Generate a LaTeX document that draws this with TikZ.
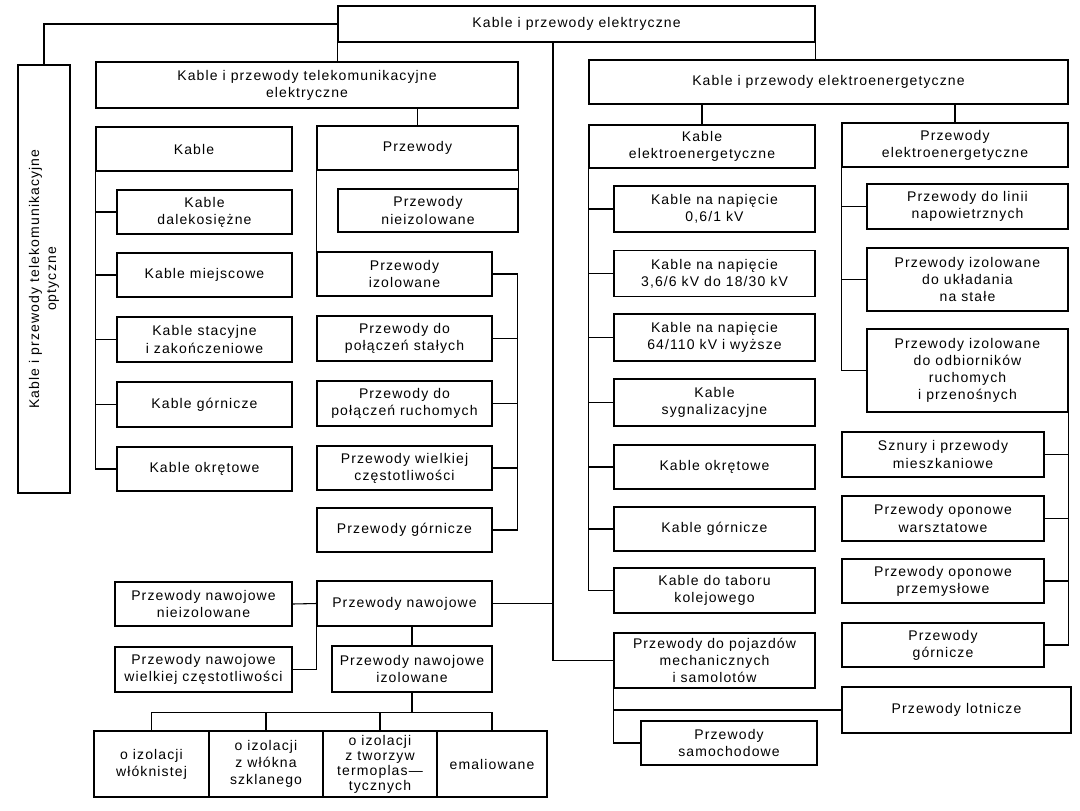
\documentclass[tikz,border=0pt]{standalone}
\usepackage{fontspec}
\setmainfont{Liberation Sans}[LetterSpace=8]
\usetikzlibrary{calc}
\begin{document}
\begin{tikzpicture}[x=0.75pt, y=-0.75pt,
  box/.style={draw, line width=1.2pt, inner sep=0pt, align=center, font=\fontsize{10.5}{12.8}\selectfont},
  sz/.style 2 args={minimum width=#1*0.75pt, minimum height=#2*0.75pt},
  link/.style={line width=0.8pt}]
  \fill[white] (0,0) rectangle (1080,810);
  \useasboundingbox (0,0) rectangle (1080,810);

  \node[box, sz={477}{36}] (top) at (576.5,24) {Kable i przewody elektryczne};
  \node[box, sz={428}{52}, rotate=90] (opt) at (44,279) {Kable i przewody telekomunikacyjne\\optyczne};

  % telekomunikacyjne
  \node[box, sz={422}{46}] (tele) at (307,85) {Kable i przewody telekomunikacyjne\\elektryczne};
  \node[box, sz={196}{44}] (kable) at (194,149) {Kable};
  \node[box, sz={201}{44}] (przew) at (417.5,148) {Przewody};
  \node[box, sz={175}{44}] (kdal) at (204.5,212) {Kable\\dalekosiężne};
  \node[box, sz={175}{44}] (kmiej) at (204.5,275) {Kable miejscowe};
  \node[box, sz={175}{45}] (kstac) at (204.5,339.5) {Kable stacyjne\\i zakończeniowe};
  \node[box, sz={175}{45}] (kgorn) at (204.5,404.5) {Kable górnicze};
  \node[box, sz={175}{44}] (kokr) at (204.5,469) {Kable okrętowe};
  \node[box, sz={180}{43}] (pnieiz) at (428,210.5) {Przewody\\nieizolowane};
  \node[box, sz={175}{44}] (piz) at (404.5,274) {Przewody\\izolowane};
  \node[box, sz={175}{45}] (pstal) at (404.5,338.5) {Przewody do\\połączeń stałych};
  \node[box, sz={175}{45}] (pruch) at (404.5,403.5) {Przewody do\\połączeń ruchomych};
  \node[box, sz={175}{44}] (pwiel) at (404.5,468) {Przewody wielkiej\\częstotliwości};
  \node[box, sz={175}{44}] (pgorn) at (404.5,530) {Przewody górnicze};

  % nawojowe
  \node[box, sz={175}{45}] (pnaw) at (404.5,603.5) {Przewody nawojowe};
  \node[box, sz={177}{44}] (pnawniz) at (203.5,604) {Przewody nawojowe\\nieizolowane};
  \node[box, sz={177}{45}] (pnawwc) at (203.5,669.5) {Przewody nawojowe\\wielkiej częstotliwości};
  \node[box, sz={160}{46}] (pnawiz) at (412,669) {Przewody nawojowe\\izolowane};
  \node[box, sz={115}{66}] (b1) at (151.5,764) {o izolacji\\włóknistej};
  \node[box, sz={114}{66}] (b2) at (266,764) {o izolacji\\z włókna\\szklanego};
  \node[box, sz={114}{66}, font=\fontsize{10.5}{11.2}\selectfont] (b3) at (380,764) {o izolacji\\z tworzyw\\termoplas—\\tycznych};
  \node[box, sz={110}{66}] (b4) at (492,764) {emaliowane};

  % elektroenergetyczne
  \node[box, sz={479}{44}] (energ) at (828.5,82) {Kable i przewody elektroenergetyczne};
  \node[box, sz={226}{43}] (kenerg) at (702,146.5) {Kable\\elektroenergetyczne};
  \node[box, sz={226}{44}] (penerg) at (955,145) {Przewody\\elektroenergetyczne};
  \node[box, sz={201}{46}] (k06) at (714.5,209) {Kable na napięcie\\0,6/1 kV};
  \node[box, sz={201}{46}] (k36) at (714.5,273.5) {Kable na napięcie\\3,6/6 kV do 18/30 kV};
  \node[box, sz={201}{47}] (k64) at (714.5,337.5) {Kable na napięcie\\64/110 kV i wyższe};
  \node[box, sz={201}{47}] (ksyg) at (714.5,402.5) {Kable\\sygnalizacyjne};
  \node[box, sz={201}{44}] (kokr2) at (714.5,467) {Kable okrętowe};
  \node[box, sz={201}{44}] (kgorn2) at (714.5,529) {Kable górnicze};
  \node[box, sz={201}{45}] (ktab) at (714.5,590.5) {Kable do taboru\\kolejowego};
  \node[box, sz={201}{55}] (ppoj) at (714.5,660.5) {Przewody do pojazdów\\mechanicznych\\i samolotów};
  \node[box, sz={176}{44}] (psam) at (729,743) {Przewody\\samochodowe};
  \node[box, sz={229}{46}] (plot) at (956.5,710) {Przewody lotnicze};
  \node[box, sz={201}{45}] (napow) at (967.5,206.5) {Przewody do linii\\napowietrznych};
  \node[box, sz={201}{63}] (ukl) at (967.5,279.5) {Przewody izolowane\\do układania\\na stałe};
  \node[box, sz={201}{83}] (odb) at (967.5,370.5) {Przewody izolowane\\do odbiorników\\ruchomych\\i przenośnych};
  \node[box, sz={202}{45}] (sznury) at (943,454.5) {Sznury i przewody\\mieszkaniowe};
  \node[box, sz={202}{45}] (warszt) at (943,518.5) {Przewody oponowe\\warsztatowe};
  \node[box, sz={202}{44}] (przem) at (943,581) {Przewody oponowe\\przemysłowe};
  \node[box, sz={202}{44}] (pgorn2) at (943,645) {Przewody\\górnicze};

  \coordinate (trunk) at (553,42);
  \coordinate (pbus) at ($(piz.east)+(25,0)$);
  \coordinate (bus) at ($(pnawiz.south)+(0,20)$);

  \draw[link] (top.west) -| (opt.east);
  \draw[link] (top.south west) -- (top.south west |- tele.north);
  \draw[link] (top.south east) -- (top.south east |- energ.north);
  \draw[link] (trunk) |- (ppoj.west);
  \draw[link] (pnaw.east) -- (pnaw.east -| trunk);

  \draw[link] ($(kable.north)+(10,0)$) -- ($(kable.north)+(10,0)$ |- tele.south);
  \draw[link] (przew.north) -- (przew.north |- tele.south);
  \draw[link] (kable.south west) |- (kokr.west);
  \foreach \n in {kdal,kmiej,kstac,kgorn}
    \draw[link] (\n.west) -- (\n.west -| kable.west);
  \draw[link] (przew.south west) -- (piz.north west);
  \draw[link] (przew.south east) -- (pnieiz.north east);
  \draw[link] (piz.east) -- (pbus) |- (pgorn.east);
  \foreach \n in {pstal,pruch,pwiel}
    \draw[link] (\n.east) -- (\n.east -| pbus);

  \draw[link] (pnawniz.east) -- (pnaw.west);
  \draw[link] (pnaw.south west) |- (pnawwc.east);
  \draw[link] (pnawiz.north |- pnaw.south) -- (pnawiz.north);
  \draw[link] (pnawiz.south) -- (bus);
  \draw[link] (b1.north) |- (bus) -| (b4.north);
  \foreach \n in {b2,b3}
    \draw[link] (\n.north) -- (\n.north |- bus);

  \draw[link] (kenerg.north) -- (kenerg.north |- energ.south);
  \draw[link] (penerg.north) -- (penerg.north |- energ.south);
  \draw[link] (kenerg.south west) |- (ktab.west);
  \foreach \n in {k06,k36,k64,ksyg,kokr2,kgorn2}
    \draw[link] (\n.west) -- (\n.west -| kenerg.west);
  \draw[link] (penerg.south west) |- (odb.west);
  \foreach \n in {napow,ukl}
    \draw[link] (\n.west) -- (\n.west -| penerg.west);
  \draw[link] (odb.south east) |- (pgorn2.east);
  \foreach \n in {sznury,warszt,przem}
    \draw[link] (\n.east) -- (\n.east -| odb.east);
  \draw[link] (ppoj.south west) |- (psam.west);
  \draw[link] (ppoj.south west |- plot.west) -- (plot.west);
\end{tikzpicture}
\end{document}
